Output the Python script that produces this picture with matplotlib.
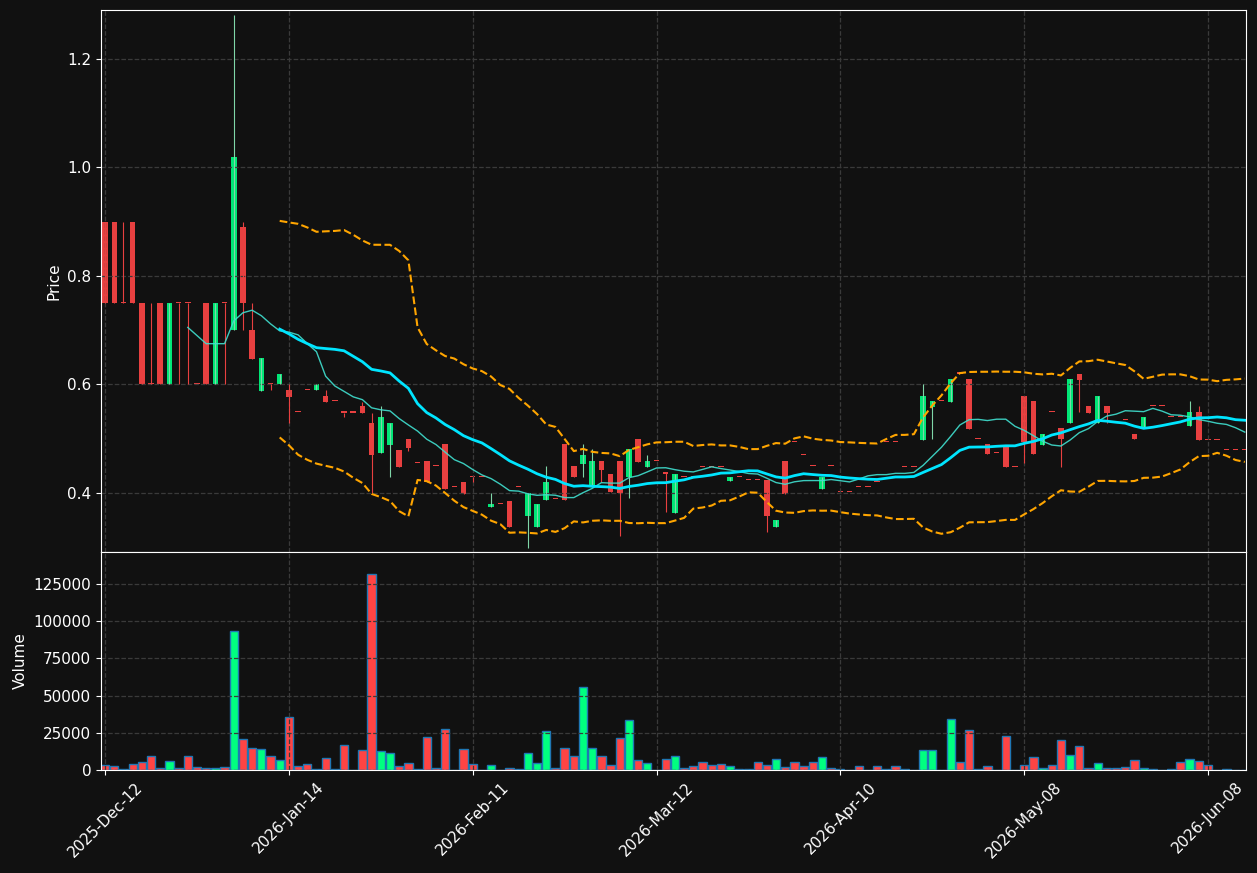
import matplotlib
matplotlib.use("Agg")
import matplotlib.pyplot as plt
import numpy as np
import pandas as pd

# OHLCV values (one entry per candle)
opens = [.90, .90, .75, .90, .75, .60, .75, .60, .75, .75, .60, .75, .60, .75, .70, .89, .70, .588, .60, .60,
         .59, .549, .59, .59, .579, .57, .548, .548, .56, .529, .474, .488, .479, .50, .455, .459, .45, .49, .41, .42,
         .43, .43, .374, .38, .385, .41, .358, .337, .387, .389, .49, .45, .453, .41, .459, .435, .459, .43, .50, .448,
         .459, .438, .363, .43, .43, .448, .448, .448, .422, .43, .424, .424, .424, .337, .459, .494, .47, .449, .407, .449,
         .402, .402, .41, .41, .42, .494, .494, .448, .448, .498, .559, .569, .568, .62, .61, .50, .49, .473, .485, .448,
         .579, .569, .488, .549, .52, .529, .62, .56, .529, .56, .529, .535, .508, .52, .56, .56, .54, .54, .523, .549,
         .498, .498, .479, .479, .479]
highs = [.90, .90, .90, .90, .75, .75, .75, .75, .75, .75, .60, .75, .75, .75, 1.28, .90, .75, .649, .60, .62,
         .60, .549, .59, .60, .59, .57, .548, .548, .567, .548, .56, .529, .479, .50, .455, .459, .45, .49, .41, .42,
         .43, .43, .40, .38, .385, .41, .40, .38, .45, .389, .49, .45, .49, .48, .459, .435, .459, .48, .50, .47,
         .459, .438, .435, .43, .43, .448, .448, .448, .43, .43, .424, .424, .424, .35, .459, .494, .47, .449, .43, .449,
         .402, .402, .41, .41, .42, .494, .494, .448, .448, .60, .569, .569, .61, .62, .61, .50, .49, .473, .485, .448,
         .579, .569, .508, .549, .52, .61, .62, .56, .579, .56, .529, .535, .508, .54, .56, .56, .54, .54, .569, .56,
         .498, .498, .479, .479, .479]
lows = [.75, .75, .75, .75, .60, .60, .60, .60, .60, .60, .60, .60, .60, .60, .70, .70, .647, .588, .59, .60,
        .529, .549, .59, .59, .568, .57, .54, .548, .548, .40, .474, .43, .448, .478, .455, .42, .45, .407, .41, .398,
        .42, .43, .374, .38, .337, .41, .299, .337, .387, .389, .387, .43, .43, .41, .42, .402, .32, .39, .457, .448,
        .459, .365, .363, .43, .43, .448, .448, .448, .422, .43, .424, .424, .328, .337, .398, .494, .47, .449, .407, .449,
        .402, .402, .41, .41, .42, .494, .494, .448, .448, .498, .50, .569, .568, .62, .518, .50, .472, .473, .448, .448,
        .455, .472, .488, .549, .448, .529, .549, .548, .529, .529, .529, .535, .50, .52, .56, .56, .54, .54, .523, .498,
        .498, .498, .479, .479, .479]
closes = [.75, .75, .75, .75, .60, .60, .60, .75, .75, .75, .60, .60, .75, .75, 1.02, .75, .647, .649, .60, .62,
          .577, .549, .59, .60, .568, .57, .548, .548, .548, .47, .54, .529, .448, .483, .455, .42, .45, .407, .41, .398,
          .43, .43, .38, .38, .337, .41, .40, .38, .42, .389, .387, .43, .47, .459, .443, .402, .40, .48, .457, .459,
          .459, .434, .435, .43, .43, .448, .448, .448, .43, .43, .424, .424, .358, .35, .398, .494, .47, .449, .43, .449,
          .402, .402, .41, .41, .42, .494, .494, .448, .448, .579, .569, .569, .61, .62, .518, .50, .472, .473, .448, .448,
          .494, .472, .508, .549, .50, .61, .608, .548, .579, .548, .529, .535, .50, .54, .56, .56, .54, .54, .549, .498,
          .498, .498, .479, .479, .479]
volumes = [3400, 3000, 500, 4000, 5400, 9200, 1100, 5800, 1100, 9200, 1800, 1100, 1100, 1800, 93200, 20600, 14600, 13900, 9200, 6500,
           35400, 2500, 3800, 900, 7800, 400, 16600, 0, 13200, 132000, 12500, 11200, 2500, 4500, 400, 22000, 1100, 27300, 0, 13900,
           3800, 0, 3100, 0, 1100, 400, 11700, 4400, 26300, 1100, 15000, 9700, 55500, 15000, 9100, 3100, 21700, 33600, 6400, 4400,
           300, 7100, 9100, 1100, 2400, 5100, 3100, 3800, 2400, 400, 400, 5100, 3100, 7700, 1800, 5100, 2400, 5100, 8400, 1100,
           400, 0, 2400, 0, 2400, 400, 2400, 400, 0, 13700, 13100, 0, 34300, 5100, 27000, 400, 2400, 0, 23000, 0,
           3100, 8400, 1100, 3100, 20400, 10400, 16400, 1100, 4400, 1100, 1100, 1800, 6400, 1100, 400, 0, 400, 5100, 7700, 5800,
           3100, 0, 400, 0, 0]
tick_labels = ["2025-Dec-12", "2026-Jan-14", "2026-Feb-11", "2026-Mar-12", "2026-Apr-10", "2026-May-08", "2026-Jun-08"]

df = pd.DataFrame({"o": opens, "h": highs, "l": lows, "c": closes, "v": volumes})
x = np.arange(len(df))
up = df.c > df.o

ma10 = df.c.rolling(10).mean()
ma20 = df.c.rolling(20).mean()
sd20 = df.c.rolling(20).std(ddof=0)

bg = "#111111"
fig = plt.figure(figsize=(12.57, 8.73), dpi=100, facecolor=bg)
ax = fig.add_axes([0.0803, 0.3677, 0.9107, 0.6208])
axv = fig.add_axes([0.0803, 0.118, 0.9107, 0.2497], sharex=ax)

candle_col = np.where(up, "#00e676", "#e84040")
wick_col = np.where(up, "#7fd6a8", "#e84040")
ax.vlines(x, df.l, df.h, colors=wick_col, linewidth=0.8)
body = np.maximum((df.c - df.o).abs(), 0.002)
ax.bar(x, body, bottom=np.minimum(df.o, df.c), width=0.6, color=candle_col)

ax.plot(x, ma10, color="#40e0d0", lw=1, alpha=0.9)
ax.plot(x, ma20, color="#00e5ff", lw=2)
ax.plot(x, ma20 + 2 * sd20, color="orange", lw=1.5, ls="--")
ax.plot(x, ma20 - 2 * sd20, color="orange", lw=1.5, ls="--")

vol_col = np.where(up, "#00ff80", "#ff4444")
axv.bar(x, df.v, width=0.9, color=vol_col, edgecolor="#1f77b4", linewidth=1)

for a in (ax, axv):
    a.set_facecolor(bg)
    a.grid(True, ls="--", color="#3a3a3a", lw=0.9)
    a.tick_params(colors="white", labelsize=11)
    for s in a.spines.values():
        s.set_color("white")

ax.set_ylim(0.291, 1.29)
ax.set_yticks([0.4, 0.6, 0.8, 1.0, 1.2])
ax.set_ylabel("Price", color="white", fontsize=11)
ax.tick_params(axis="x", labelbottom=False)
axv.set_ylim(0, 146500)
axv.set_yticks([0, 25000, 50000, 75000, 100000, 125000])
axv.set_ylabel("Volume", color="white", fontsize=11)
axv.set_xlim(-0.45, 124.1)
axv.set_xticks(np.arange(0, len(df), 20))
axv.set_xticklabels(tick_labels, rotation=45)

fig.savefig("out.png", dpi=100, facecolor=bg)
